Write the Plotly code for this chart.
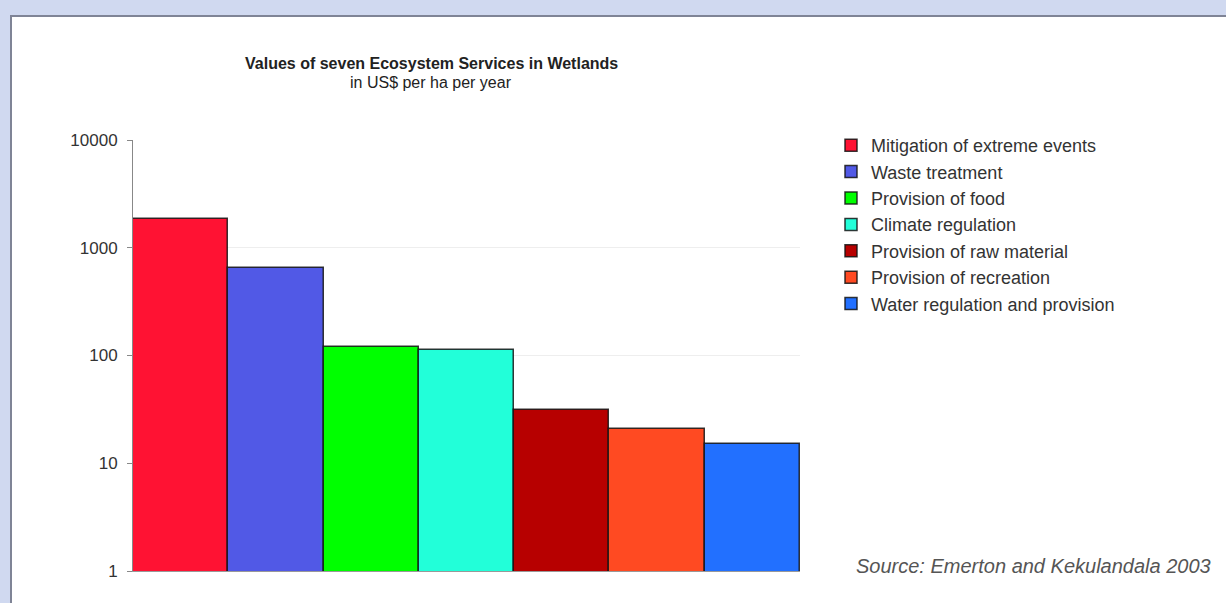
import plotly.graph_objects as go

services = [
    "Mitigation of extreme events",
    "Waste treatment",
    "Provision of food",
    "Climate regulation",
    "Provision of raw material",
    "Provision of recreation",
    "Water regulation and provision",
]
values = [1850, 650, 120, 112, 31.5, 20.8, 15.1]
colors = ["#FF1233", "#5159E6", "#00FF00", "#22FFD9", "#B70000", "#FF4A22", "#2270FF"]
tick_vals = [1, 10, 100, 1000, 10000]
tick_text = ["1", "10", "100", "1000", "10000"]

W, H = 1226, 603
L, R, T, B = 133, 800, 140, 571
pw, ph = R - L, B - T


def px(x):
    return (x - L) / pw


def py(y):
    return (B - y) / ph


fig = go.Figure()
for i, (s, v, c) in enumerate(zip(services, values, colors)):
    fig.add_trace(go.Bar(
        x=[s], y=[v], name=s, width=1,
        marker=dict(color=c, line=dict(color="rgba(20,20,20,0.85)", width=1.5)),
        legendgroup=f"g{i}",
    ))

fig.update_layout(
    width=W, height=H,
    margin=dict(l=L, r=W - R, t=T, b=H - B),
    paper_bgcolor="#D0D9F0",
    plot_bgcolor="white",
    barmode="overlay",
    bargap=0,
    font=dict(family="Liberation Sans, Arial, sans-serif", color="#333"),
    showlegend=True,
    legend=dict(
        x=px(831), y=py(127), xanchor="left", yanchor="top",
        font=dict(size=18, color="#333"),
        tracegroupgap=0, traceorder="grouped",
        bgcolor="rgba(0,0,0,0)", itemwidth=30,
    ),
    xaxis=dict(
        showticklabels=False, ticks="", showgrid=False,
        showline=True, linecolor="#999", linewidth=1,
        range=[-0.5, 6.5], fixedrange=True,
    ),
    yaxis=dict(
        type="log", range=[0, 4],
        tickvals=tick_vals, ticktext=tick_text,
        ticks="outside", ticklen=5, tickcolor="#888",
        ticklabelstandoff=6,
        showline=True, linecolor="#888", linewidth=1,
        showgrid=True, gridcolor="#EEEEEE", gridwidth=1,
        tickfont=dict(size=17, color="#333"),
        zeroline=False,
    ),
    shapes=[
        dict(type="rect", xref="paper", yref="paper",
             x0=px(11), x1=px(W + 20), y0=py(H + 20), y1=py(16),
             fillcolor="white", line=dict(color="#7F8496", width=2), layer="below"),
    ],
    annotations=[
        dict(text="<b>Values of seven Ecosystem Services in Wetlands</b>",
             x=px(431), y=py(63), xref="paper", yref="paper", showarrow=False,
             xanchor="center", yanchor="middle", font=dict(size=16, color="#222")),
        dict(text="in US$ per ha per year",
             x=px(431), y=py(83), xref="paper", yref="paper", showarrow=False,
             xanchor="center", yanchor="middle", font=dict(size=16, color="#222")),
        dict(text="<i>Source: Emerton and Kekulandala 2003</i>",
             x=px(1213), y=py(566), xref="paper", yref="paper", showarrow=False,
             xanchor="right", yanchor="middle",
             font=dict(size=20, color="#555", family="Liberation Sans, Arial, sans-serif")),
    ],
)

fig.write_html("out.html", config={"displayModeBar": False},
               post_script="document.body.style.margin='0';document.body.style.overflow='hidden';")
